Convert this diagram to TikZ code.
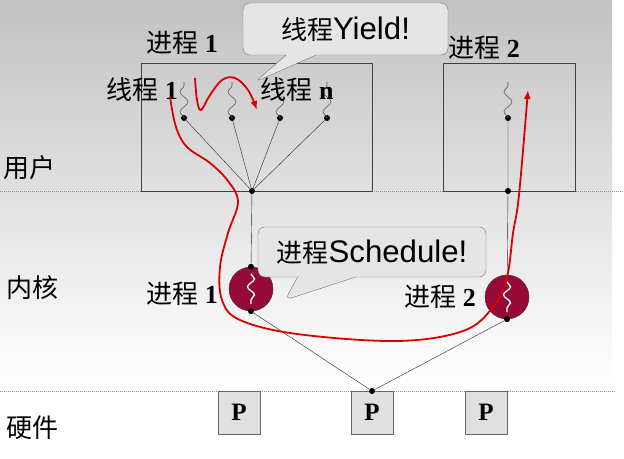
\documentclass[tikz,border=0pt]{standalone}
\usepackage{fontspec}
\setmainfont{Liberation Serif}
\newfontfamily\cjk{Noto Sans CJK SC}
\newfontfamily\lsans[Scale=1.2]{Liberation Sans}
\usetikzlibrary{arrows.meta, positioning, shapes.callouts, decorations.pathmorphing}
\definecolor{kred}{RGB}{150,10,55}
\tikzset{
	procbox/.style={rectangle, draw=black!75, minimum height=128pt, inner sep=0pt},
	tdot/.style={circle, fill=black, inner sep=0pt, minimum size=6pt},
	kproc/.style={circle, draw=black!80, fill=kred, minimum size=44pt, inner sep=0pt},
	pbox/.style={rectangle, draw=black!60, fill=black!12, minimum width=42pt,
		minimum height=43pt, font=\fontsize{25}{27}\selectfont\bfseries},
	lbl/.style={font=\fontsize{26}{28}\selectfont, inner sep=0pt},
	layer/.style={font=\cjk\fontsize{26}{28}\selectfont, inner sep=0pt},
	bubble/.style={rectangle callout, draw=black!55, fill=black!10, rounded corners=7pt,
		inner sep=0pt, font=\fontsize{26}{28}\selectfont},
	wave/.style={decorate, decoration={snake, amplitude=4pt, segment length=20pt}, black!65, line width=0.6pt},
	kwave/.style={decorate, decoration={snake, amplitude=3.5pt, segment length=16pt}, white, line width=1.3pt},
	link/.style={black!85, thin},
	sep/.style={black!45, dash pattern=on 1pt off 1pt},
	redarr/.style={-{Latex[length=9pt, width=7pt]}, line width=1.8pt, red!85!black},
}
\begin{document}
\begin{tikzpicture}[x=1pt, y=-1pt]
	\useasboundingbox (0,0) rectangle (624,458);
	\shade[top color=black!24, bottom color=white] (0,0) rectangle (612,385);
	
	% layers
	\draw[sep] (0,191) -- (624,191);
	\draw[sep] (0,391) -- (615,391);
	\node[layer] (user) at (29,168) {用户};
	\node[layer] (kernel) at (32,288) {内核};
	\node[layer] (hw) at (32,428) {硬件};
	
	% user processes
	\node[procbox, minimum width=231pt] (proc1) at (256.5,127) {};
	\node[procbox, minimum width=132pt] (proc2) at (509,127) {};
	\node[lbl] (proc1lbl) at (182,43) {{\cjk 进程} \textbf{1}};
	\node[lbl] (proc2lbl) at (484,48) {{\cjk 进程} \textbf{2}};
	
	% threads
	\node[tdot] (root1) at (252,191) {};
	\foreach \i/\x in {1/184, 2/232, 3/280, 4/327} {
		\node[tdot] (th\i) at (\x,118) {};
		\draw[wave] (th\i.center) -- ++(0,-36);
		\draw[link] (th\i) -- (root1);
	}
	\node[tdot] (root2) at (508,191) {};
	\node[tdot] (th5) at (508,118) {};
	\draw[wave] (th5.center) -- ++(0,-36);
	\node[lbl] (th1lbl) at (142,90) {{\cjk 线程} \textbf{1}};
	\node[lbl] (thnlbl) at (297,90) {{\cjk 线程} \textbf{n}};
	
	% kernel
	\node[kproc] (kp1) at (251,289) {};
	\node[kproc] (kp2) at (507,297) {};
	\draw[kwave] ([yshift=-7pt]kp1.north) -- ([yshift=7pt]kp1.south);
	\draw[kwave] ([yshift=-7pt]kp2.north) -- ([yshift=7pt]kp2.south);
	\node[tdot] (kd1a) at (kp1.north) {};
	\node[tdot] (kd1b) at (kp1.south) {};
	\node[tdot] (kd2b) at (kp2.south) {};
	\draw[link] (root1) -- (kd1a);
	\draw[link] (th5) -- (root2) -- (kp2);
	\node[lbl] (kp1lbl) at (182,294) {{\cjk 进程} \textbf{1}};
	\node[lbl] (kp2lbl) at (440,297) {{\cjk 进程} \textbf{2}};
	
	% hardware
	\foreach \i/\x in {1/239, 2/372, 3/486}
		\node[pbox] (cpu\i) at (\x,412.5) {P};
	\node[tdot] (hwdot) at (372,391) {};
	\draw[link] (kd1b) -- (hwdot);
	\draw[link] (kd2b) -- (hwdot);
	
	% callouts
	\node[bubble, minimum width=205pt, minimum height=52pt, callout pointer width=30pt,
		callout absolute pointer={(255,82)}] (yield) at (345.5,29) {{\cjk 线程}{\lsans Yield!}};
	\node[bubble, minimum width=228pt, minimum height=50pt, callout pointer width=58pt,
		callout absolute pointer={(285,300)}] (sched) at (372,252) {{\cjk 进程}{\lsans Schedule!}};
	
	% switches
	\coordinate (ystart) at (195,78);
	\coordinate (yend) at (257,110);
	\draw[redarr] plot[smooth, tension=0.6] coordinates {(ystart) (197,100) (201,110) (210,95)
		(222,80) (235,78) (248,90) (yend)};
	\coordinate (sstart) at (170,97);
	\coordinate (send) at (528,90);
	\draw[redarr] plot[smooth, tension=0.6] coordinates {(sstart) (176,127) (187,147) (210,163)
		(228,181) (238,202) (228,233) (220,267) (222,300) (240,320) (297,334) (397,341)
		(463,331) (493,307) (507,277) (513,233) (519,195) (send)};
\end{tikzpicture}
\end{document}
